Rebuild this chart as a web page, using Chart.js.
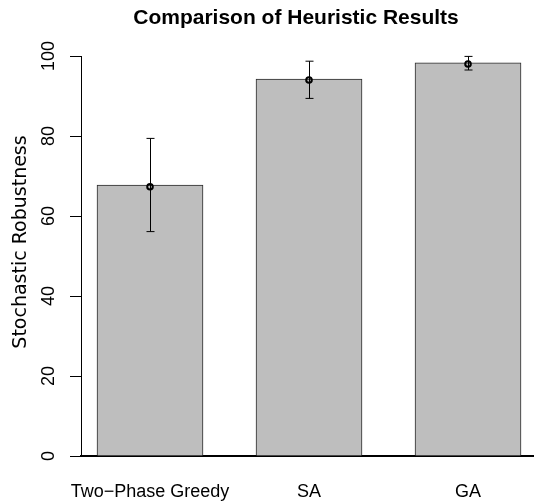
<!DOCTYPE html>
<html>
<head>
<meta charset="utf-8">
<title>Comparison of Heuristic Results</title>
<script src="https://cdn.jsdelivr.net/npm/chart.js@4.4.1/dist/chart.umd.min.js"></script>
<style>
  html, body { margin: 0; padding: 0; background: #fff; overflow: hidden; }
  canvas { display: block; }
</style>
</head>
<body>
<canvas id="chart" width="534" height="502"></canvas>
<script>
// ── Datos ─────────────────────────────────────────────────────────────────────
const categorias  = ['Two\u2212Phase Greedy', 'SA', 'GA'];
const posiciones  = [1, 2, 3];
const barras      = [67.7, 94.2, 98.3];   // altura de cada barra
const medias      = [67.3, 94.0, 98.0];   // punto central
const errorBajo   = [56.1, 89.4, 96.5];
const errorAlto   = [79.4, 98.7, 99.9];
const ticksY      = [0, 20, 40, 60, 80, 100];

const FUENTE = "'Liberation Sans', Arial, Helvetica, sans-serif";

// ── Barras de error y títulos ─────────────────────────────────────────────────
const errorBars = {
    id: 'errorBars',
    afterDatasetsDraw(chart) {
        const { ctx, scales: { x, y } } = chart;
        ctx.save();
        ctx.strokeStyle = '#000';
        ctx.lineWidth = 1;
        posiciones.forEach((p, i) => {
            const px = Math.round(x.getPixelForValue(p)) + 0.5;
            const lo = y.getPixelForValue(errorBajo[i]);
            const hi = y.getPixelForValue(errorAlto[i]);
            ctx.beginPath();
            ctx.moveTo(px, lo); ctx.lineTo(px, hi);
            ctx.moveTo(px - 4, lo); ctx.lineTo(px + 4, lo);
            ctx.moveTo(px - 4, hi); ctx.lineTo(px + 4, hi);
            ctx.stroke();
        });
        ctx.restore();
    }
};

const titulos = {
    id: 'titulos',
    afterDraw(chart) {
        const ctx = chart.ctx;
        ctx.save();
        ctx.fillStyle = '#000';
        ctx.textAlign = 'center';
        ctx.textBaseline = 'middle';
        ctx.font = "bold 21px " + FUENTE;
        ctx.fillText('Comparison of Heuristic Results', 296, 18);
        // título del eje Y, girado
        ctx.translate(21, 242);
        ctx.rotate(-Math.PI / 2);
        ctx.font = "19px 'DejaVu Sans', sans-serif";
        ctx.fillText('Stochastic Robustness', 0, 0);
        ctx.restore();
    }
};

// ── Gráfico ───────────────────────────────────────────────────────────────────
new Chart(document.getElementById('chart'), {
    type: 'bar',
    data: {
        datasets: [
            {
                type: 'line',
                data: posiciones.map((p, i) => ({ x: p, y: medias[i] })),
                showLine: false,
                pointRadius: 2.8,
                pointBorderWidth: 2,
                pointBorderColor: '#000',
                pointBackgroundColor: 'rgba(0,0,0,0)',
                order: 0
            },
            {
                data: posiciones.map((p, i) => ({ x: p, y: barras[i] })),
                backgroundColor: '#BEBEBE',
                borderColor: '#2a2a2a',
                borderWidth: 1,
                barThickness: 106,
                order: 1
            }
        ]
    },
    options: {
        responsive: false,
        animation: false,
        layout: { autoPadding: false, padding: { top: 56, right: 0, left: 0, bottom: 0 } },
        plugins: {
            legend: { display: false },
            tooltip: { enabled: false }
        },
        scales: {
            x: {
                type: 'linear',
                offset: false,
                min: 0.566,
                max: 3.415,
                grid: { display: false, drawTicks: false, offset: false },
                border: { display: true, color: '#000', width: 2 },
                afterBuildTicks: scale => { scale.ticks = posiciones.map(v => ({ value: v })); },
                afterFit: scale => { scale.height = 46; scale.paddingLeft = 0; scale.paddingRight = 0; },
                ticks: {
                    autoSkip: false,
                    maxRotation: 0,
                    padding: 25,
                    color: '#000',
                    font: { family: FUENTE, size: 18 },
                    callback: v => categorias[posiciones.indexOf(v)] ?? ''
                }
            },
            y: {
                min: 0,
                max: 100,
                grid: { drawOnChartArea: false, drawTicks: true, tickLength: 11, color: '#000' },
                border: { display: true, color: '#000', width: 1 },
                afterBuildTicks: scale => { scale.ticks = ticksY.map(v => ({ value: v })); },
                afterFit: scale => { scale.width = 81; },
                ticks: {
                    autoSkip: false,
                    minRotation: 90,
                    maxRotation: 90,
                    crossAlign: 'center',
                    padding: 6,
                    color: '#000',
                    font: { family: FUENTE, size: 18 }
                }
            }
        }
    },
    plugins: [errorBars, titulos]
});
</script>
</body>
</html>
